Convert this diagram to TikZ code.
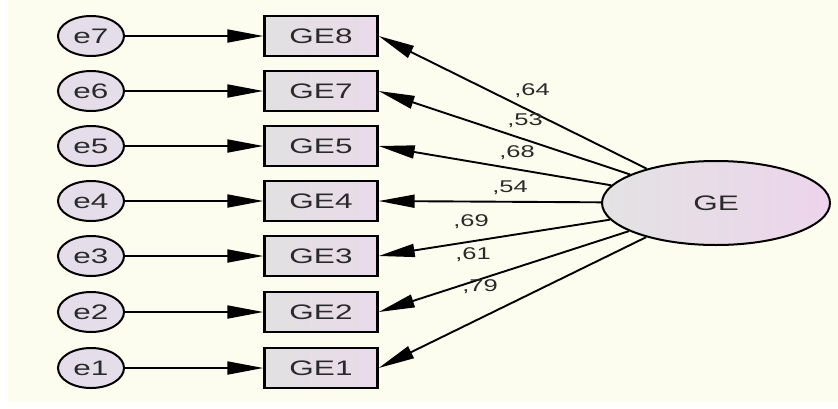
\documentclass[tikz,border=0pt]{standalone}
\usepackage{fontspec}
\setmainfont[FakeStretch=1.5]{Liberation Sans}
\usepackage{tikz}
\usetikzlibrary{arrows.meta,shapes.geometric,backgrounds}
\definecolor{paper}{HTML}{FDFDEF}
\definecolor{ink}{HTML}{2A2A2A}
\definecolor{boxl}{HTML}{E1E1E1}
\definecolor{boxr}{HTML}{EADAEA}
\definecolor{errfill}{HTML}{E6DDEB}
\definecolor{latl}{HTML}{E3E3E3}
\definecolor{latr}{HTML}{EDD4EC}

\begin{document}
\begin{tikzpicture}[x=1pt,y=-1pt]
\tikzstyle{err}=[ellipse,draw,line width=2pt,fill=errfill,minimum width=66pt,minimum height=40pt,inner sep=0pt,text=ink,font=\fontsize{21}{25}\selectfont]
\tikzstyle{item}=[rectangle,draw,line width=2.4pt,left color=boxl,right color=boxr,minimum width=113pt,minimum height=40pt,inner sep=0pt,text=ink,font=\fontsize{21}{25}\selectfont]
\tikzstyle{latent}=[ellipse,draw,line width=2pt,left color=latl,right color=latr,minimum width=228pt,minimum height=84pt,inner sep=0pt,text=ink,font=\fontsize{21}{25}\selectfont]
\tikzstyle{path}=[line width=1.9pt,-{Triangle[length=36pt,width=13pt]}]
\tikzstyle{load}=[text=ink,font=\fontsize{17}{20}\selectfont,inner sep=0pt]

\fill[white] (0,0) rectangle (838,408);
\fill[paper] (8,0) rectangle (838,402);

\node[latent] (GE) at (716,203) {GE};

\foreach \e/\g/\y/\w/\lx/\ly in {7/8/36/64/532/91, 6/7/91/53/525/121, 5/5/146/68/517/153,
  4/4/201/54/510/188, 3/3/256/69/471/222, 2/2/312/61/473/255, 1/1/368/79/480/287} {
  \node[err] (e\e) at (91,\y) {e\e};
  \node[item] (GE\g) at (321,\y) {GE\g};
  \draw[path] (e\e) -- (GE\g);
  \draw[path] (GE) -- (GE\g.east);
  \node[load] (w\g) at (\lx,\ly) {,\w};
}
\end{tikzpicture}
\end{document}
